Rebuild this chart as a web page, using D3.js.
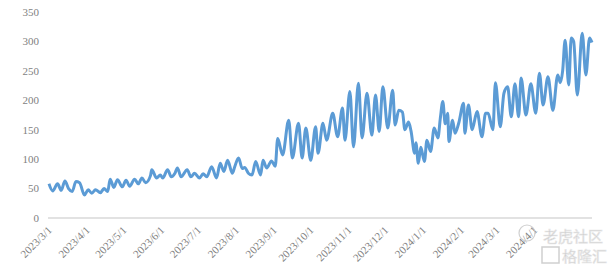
<!DOCTYPE html>
<html>
<head>
<meta charset="utf-8">
<script src="https://cdn.jsdelivr.net/npm/d3@7"></script>
<style>
  body { margin: 0; background: #fff; }
  svg { display: block; }
  .tick-label { font-family: "Liberation Serif", "Times New Roman", serif; font-size: 11px; fill: #7f7f7f; }
</style>
</head>
<body>
<svg width="616" height="271"></svg>
<script>
// days since 2023/3/1 for each reading
var days = [0, 3, 7, 10, 13, 16, 19, 22, 25, 29, 32, 35, 38, 42, 45, 48, 50, 53, 56, 60, 63, 66, 70, 73, 76, 79, 83,
  84, 88, 91, 93, 97, 100, 103, 105, 108, 113, 116, 119, 123, 126, 129, 133, 137, 140, 143, 146, 150, 152, 155, 158, 160, 163,
  166, 169, 173, 175, 178, 182, 185, 187, 191, 196, 199, 204, 207, 210, 214, 218, 220, 224, 227, 232, 236, 240, 242, 246,
  249, 253, 256, 260, 264, 267, 270, 273, 277, 281, 283, 286, 289, 291, 294, 296, 299, 300, 302, 304, 307, 309, 312, 315, 318, 320,
  322, 324, 326, 327, 330, 332, 335, 339, 340, 343, 346, 350, 354, 357, 359, 363, 365, 369, 372, 375, 378, 381, 384, 386, 390,
  394, 398, 401, 404, 408, 412, 416, 418, 420, 422, 425, 427, 429, 432, 436, 439, 442, 444];

var values = [58, 46, 58, 47, 63, 50, 45, 62, 60, 39, 48, 42, 48, 43, 50, 45, 66, 52, 65, 53, 64, 54, 66, 58, 68, 60, 72,
  82, 68, 73, 68, 82, 70, 76, 85, 70, 82, 70, 76, 68, 75, 70, 87, 68, 93, 79, 98, 76, 88, 102, 84, 86, 76,
  73, 96, 73, 98, 85, 97, 88, 135, 107, 166, 102, 161, 102, 153, 98, 155, 110, 161, 132, 178, 138, 187, 132, 215,
  121, 229, 136, 212, 141, 209, 147, 223, 153, 217, 158, 183, 180, 150, 163, 148, 110, 128, 93, 120, 96, 132, 113, 153, 136, 170,
  198, 160, 178, 130, 166, 144, 161, 195, 144, 192, 150, 181, 138, 178, 178, 150, 230, 155, 212, 223, 172, 228, 172, 238, 175,
  228, 178, 246, 192, 240, 183, 243, 230, 250, 302, 226, 306, 300, 209, 314, 243, 306, 298];

var startDate = new Date(2023, 2, 1);
var endDate = new Date(2024, 4, 18);
var monthLabels = ["2023/3/1", "2023/4/1", "2023/5/1", "2023/6/1", "2023/7/1", "2023/8/1", "2023/9/1",
  "2023/10/1", "2023/11/1", "2023/12/1", "2024/1/1", "2024/2/1", "2024/3/1", "2024/4/1"];
var yTicks = [0, 50, 100, 150, 200, 250, 300, 350];

var svg = d3.select("svg");

var x = d3.scaleTime().domain([startDate, endDate]).range([49, 592]);
var y = d3.scaleLinear().domain([0, 350]).range([218, 12]);

function dayToDate(n) {
  return d3.timeDay.offset(startDate, n);
}

// baseline
svg.append("line")
    .attr("x1", 48).attr("x2", 592)
    .attr("y1", y(0)).attr("y2", y(0))
    .attr("stroke", "#d9d9d9")
    .attr("stroke-width", 1.5);

// y labels
svg.append("g").selectAll("text")
  .data(yTicks)
  .enter().append("text")
    .attr("class", "tick-label")
    .attr("x", 39)
    .attr("y", function(d) { return y(d); })
    .attr("dy", "0.35em")
    .attr("text-anchor", "end")
    .text(function(d) { return d; });

// x labels, rotated
var parseLabel = d3.timeParse("%Y/%m/%d");
svg.append("g").selectAll("text")
  .data(monthLabels)
  .enter().append("text")
    .attr("class", "tick-label")
    .attr("transform", function(d) {
      return "translate(" + (x(parseLabel(d)) + 1) + ",228) rotate(-45)";
    })
    .attr("dy", "0.35em")
    .attr("text-anchor", "end")
    .text(function(d) { return d; });

// the series
var line = d3.line()
    .x(function(d, i) { return x(dayToDate(days[i])); })
    .y(function(d) { return y(d); })
    .curve(d3.curveMonotoneX);

svg.append("path")
    .datum(values)
    .attr("fill", "none")
    .attr("stroke", "#5b9bd5")
    .attr("stroke-width", 3)
    .attr("stroke-linejoin", "round")
    .attr("d", line);

// watermark
var wm = svg.append("g")
    .attr("font-family", "Noto Sans CJK SC")
    .attr("font-size", 15)
    .attr("fill", "#bdbdbd")
    .attr("stroke", "#e6e6e6")
    .attr("stroke-width", 0.6)
    .attr("opacity", 0.85);
wm.append("circle").attr("cx", 527).attr("cy", 233).attr("r", 8)
    .attr("fill", "none").attr("stroke", "#c8c8c8").attr("stroke-width", 1.2);
wm.append("text").attr("x", 543).attr("y", 242).text("老虎社区");
wm.append("rect").attr("x", 542).attr("y", 247).attr("width", 17).attr("height", 16)
    .attr("fill", "none").attr("stroke", "#c8c8c8").attr("stroke-width", 1.5);
wm.append("text").attr("x", 562).attr("y", 262).text("格隆汇");
</script>
</body>
</html>
